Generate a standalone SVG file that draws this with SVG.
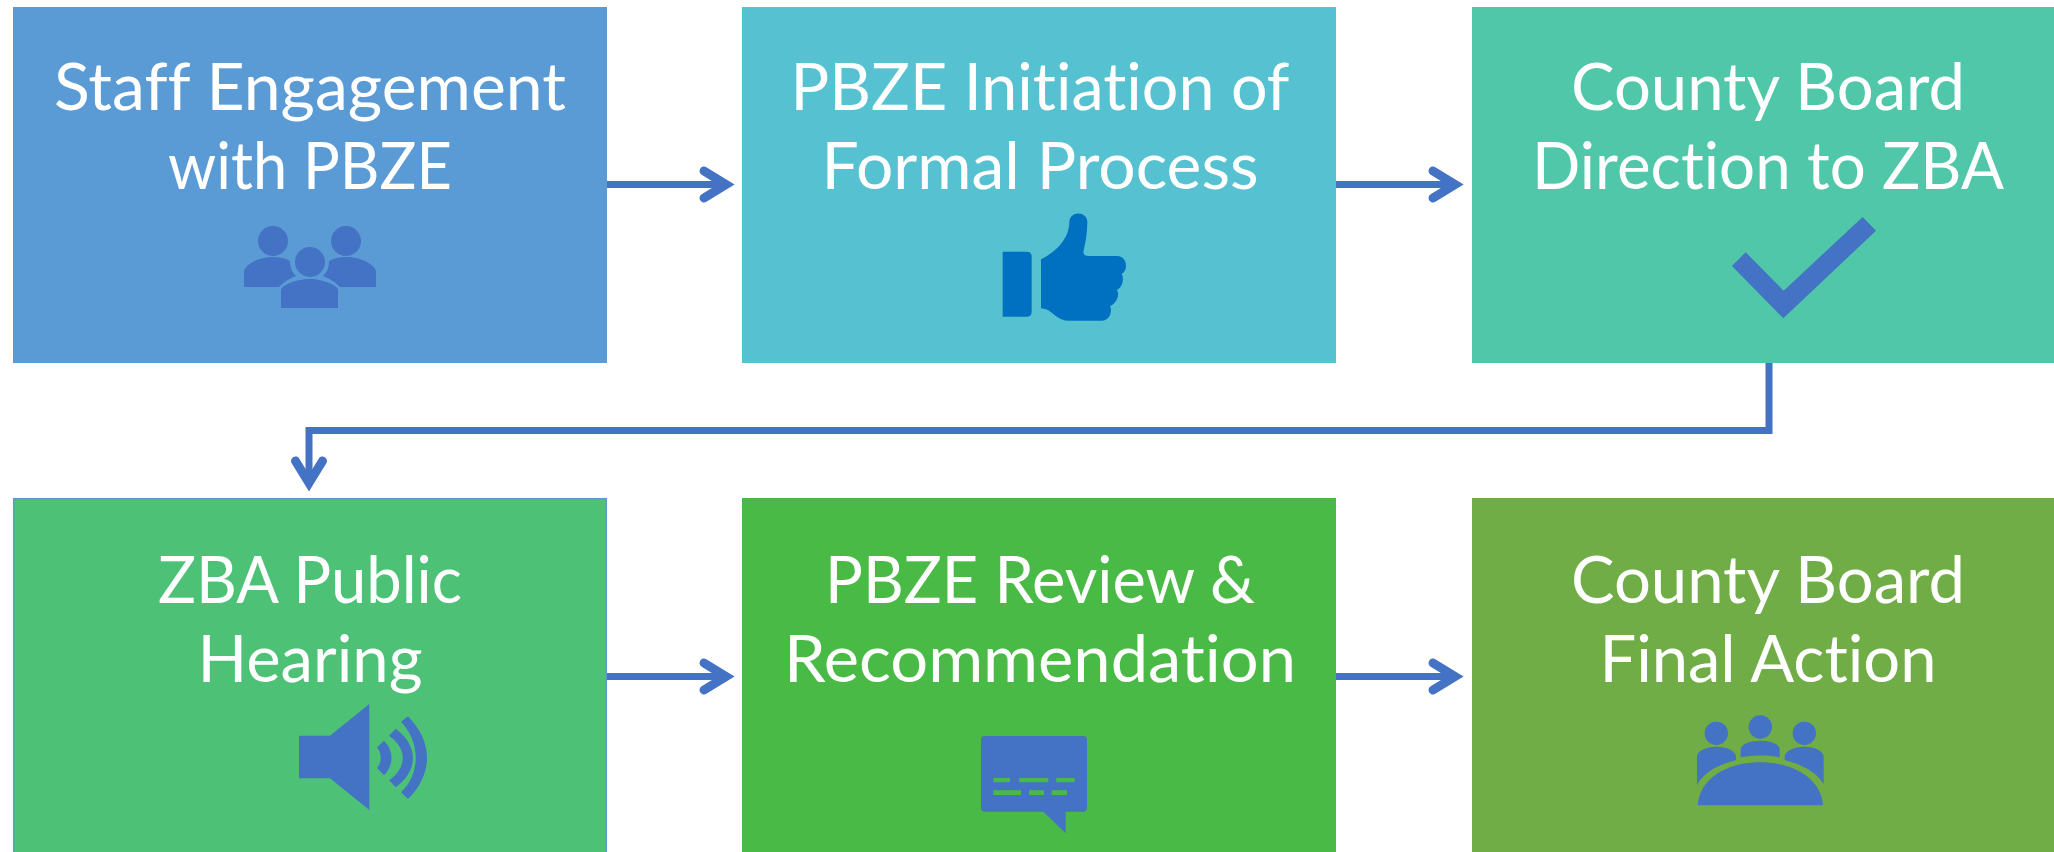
<svg xmlns="http://www.w3.org/2000/svg" width="2054" height="852" viewBox="0 0 2054 852">
<style>
text{font-family:"Lato","Liberation Sans",sans-serif;font-size:65px;fill:#fff;text-anchor:middle;font-variant-ligatures:none}
.ic{fill:#4472C4}
.ln{fill:none;stroke:#4472C4;stroke-width:7}
.hd{fill:none;stroke:#4472C4;stroke-width:9;stroke-linecap:round;stroke-linejoin:miter}
</style>
<rect width="2054" height="852" fill="#fff"/>
<g id="node-staff">
<rect x="13" y="7" width="594" height="356" fill="#5B9BD5"/>
<text x="310" y="110" textLength="512" lengthAdjust="spacingAndGlyphs">Staff Engagement</text>
<text x="310" y="189" textLength="284" lengthAdjust="spacingAndGlyphs">with PBZE</text>
<g class="ic">
<circle cx="273" cy="241" r="15"/><circle cx="346" cy="241" r="15"/><circle cx="310" cy="262" r="15"/>
<path d="M244 287V272C244 265 258 257 273 257C279 257 285 258 290 261C290 268 292 272 296 276C288 279 283 283 279 287Z"/>
<path d="M376 287V272C376 265 361 257 346 257C340 257 335 258 329 261C329 268 327 272 323 276C331 279 336 283 340 287Z"/>
<path d="M281 308V290C281 286 295 279 310 279C324 279 338 286 338 290V308Z"/>
</g>
</g>
<g id="node-initiation">
<rect x="742" y="7" width="594" height="356" fill="#56C1D0"/>
<text x="1040" y="110" textLength="499" lengthAdjust="spacingAndGlyphs">PBZE Initiation of</text>
<text x="1040" y="189" textLength="437" lengthAdjust="spacingAndGlyphs">Formal Process</text>
<g transform="translate(940 190) scale(.33333)" fill="#0070C0">
<path d="M188 185H260Q275 185 275 200V365Q275 380 260 380H188Z"/>
<path d="M303 208C350 185 388 145 388 97C388 62 442 62 442 97C442 130 436 160 430 185Q430 198 445 198H530C552 198 558 215 558 228C558 240 552 248 545 252C552 262 550 290 530 300C540 310 532 340 510 348C518 362 510 392 485 392H385C360 392 345 375 335 368C325 360 315 356 303 355Z"/>
</g>
</g>
<g id="node-direction">
<rect x="1472" y="7" width="594" height="356" fill="#50C7A8"/>
<text x="1768" y="110" textLength="394" lengthAdjust="spacingAndGlyphs">County Board</text>
<text x="1768" y="189" textLength="472" lengthAdjust="spacingAndGlyphs">Direction to ZBA</text>
<path class="ic" transform="translate(1680 190) scale(.33333)" d="M197 187L311 302L548 81L588 122L310 385L156 228Z"/>
</g>
<g id="node-hearing">
<rect x="13.7" y="498.7" width="592.6" height="360" fill="#4DC276" stroke="#5B9BD5" stroke-width="1.5"/>
<text x="310" y="603" textLength="304" lengthAdjust="spacingAndGlyphs">ZBA Public</text>
<text x="310" y="682" textLength="225" lengthAdjust="spacingAndGlyphs">Hearing</text>
<g class="ic" transform="translate(260 679) scale(.33333)">
<path d="M117 170H210L328 75V393L210 298H117Z"/>
<path d="M351 205L372 185C402 215 402 259 372 289L351 267C366 250 366 224 351 205Z"/>
<path d="M387 170L407 149C476 200 476 274 407 325L387 304C442 266 442 208 387 170Z"/>
<path d="M423 128L444 112C520 190 520 284 444 360L423 340C482 284 482 190 423 128Z"/>
</g>
</g>
<g id="node-review">
<rect x="742" y="498" width="594" height="360" fill="#4ABA46"/>
<text x="1040" y="603" textLength="430" lengthAdjust="spacingAndGlyphs">PBZE Review &amp;</text>
<text x="1040" y="682" textLength="512" lengthAdjust="spacingAndGlyphs">Recommendation</text>
<g transform="translate(960 720) scale(.33333)">
<path class="ic" d="M75 48H369Q381 48 381 60V263Q381 275 369 275H317V340L250 275H75Q63 275 63 263V60Q63 48 75 48Z"/>
<path fill="#4ABA46" d="M100 174H150V187H100ZM178 174H265V187H178ZM289 174H344V187H289ZM100 211H183V225H100ZM207 211H252V225H207ZM275 211H321V225H275Z"/>
</g>
</g>
<g id="node-final">
<rect x="1472" y="498" width="594" height="360" fill="#70AD47"/>
<text x="1768" y="603" textLength="394" lengthAdjust="spacingAndGlyphs">County Board</text>
<text x="1768" y="682" textLength="337" lengthAdjust="spacingAndGlyphs">Final Action</text>
<g class="ic" transform="translate(1680 700) scale(.33333)">
<circle cx="109" cy="100" r="35"/><circle cx="241" cy="81" r="35"/><circle cx="373" cy="100" r="35"/>
<path d="M51 255V170C51 152 80 140 109 140C138 140 168 152 168 170V180C110 195 72 218 51 255Z"/>
<path d="M182 172V148C182 132 212 122 241 122C270 122 299 132 299 148V172C260 165 222 165 182 172Z"/>
<path d="M431 252V170C431 152 402 140 373 140C344 140 314 152 314 170V180C372 195 410 218 431 252Z"/>
<path d="M53 316C58 240 135 187 241 187C347 187 424 240 429 316Z"/>
</g>
</g>
<g id="connectors">
<path class="ln" d="M607 184.5H724"/><path class="hd" d="M704 171L726 184.5L704 198"/>
<path class="ln" d="M1336 184.5H1453"/><path class="hd" d="M1433 171L1455 184.5L1433 198"/>
<path class="ln" d="M1769 363V430.5H309V481"/><path class="hd" d="M295.500 461L309 483L322.500 461"/>
<path class="ln" d="M607 676.500H724"/><path class="hd" d="M704 663L726 676.500L704 690"/>
<path class="ln" d="M1336 676.500H1453"/><path class="hd" d="M1433 663L1455 676.500L1433 690"/>
</g>
</svg>
